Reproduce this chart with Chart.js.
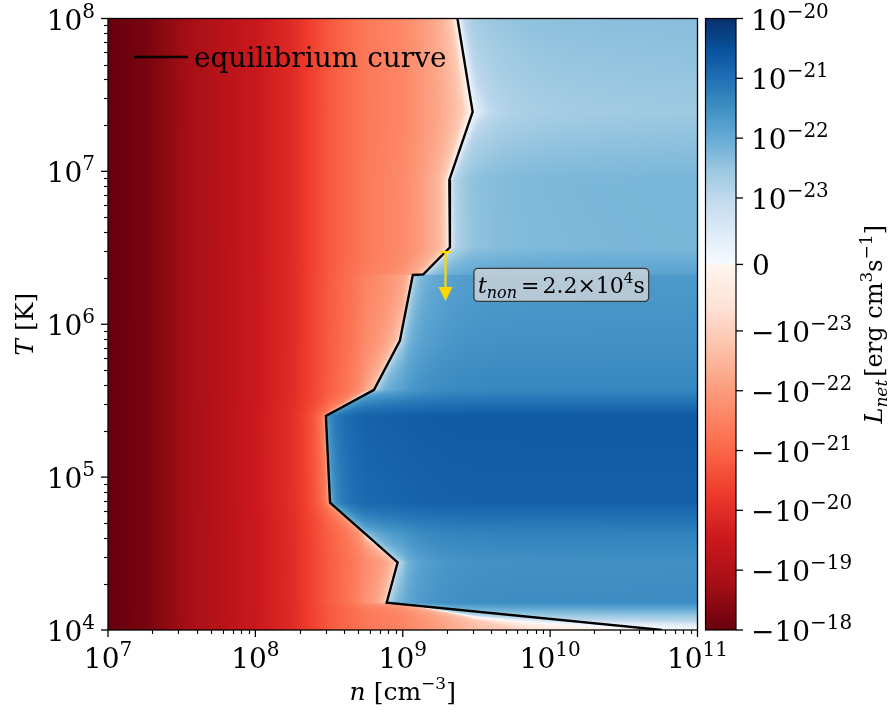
<!DOCTYPE html>
<html><head><meta charset="utf-8">
<script src="https://cdn.jsdelivr.net/npm/chart.js@4.4.1/dist/chart.umd.min.js"></script>
<style>
html,body{margin:0;padding:0;background:#ffffff;overflow:hidden}
#box{position:relative;width:890px;height:713px}
</style></head>
<body><div id="box"><canvas id="chart" width="890" height="713"></canvas></div>
<script>
// ---------------- data ----------------
const densityTickValues = [1e7, 1e8, 1e9, 1e10, 1e11];
const densityTickExponents = ['7', '8', '9', '10', '11'];
const temperatureTickValues = [1e4, 1e5, 1e6, 1e7, 1e8];
const temperatureTickExponents = ['4', '5', '6', '7', '8'];
const colorbarTickValues = [1e-20, 1e-21, 1e-22, 1e-23, 0, -1e-23, -1e-22, -1e-21, -1e-20, -1e-19, -1e-18];
const colorbarTickExponents = ['−20', '−21', '−22', '−23', '', '−23', '−22', '−21', '−20', '−19', '−18'];

const heatDensity = [1e7, 1.78e7, 3.16e7, 5.62e7, 1e8, 1.78e8, 3.16e8, 5.62e8, 1e9, 1.78e9, 3.16e9, 5.62e9, 1e10, 3.16e10, 1e11];
const heatRate = [-1e-18, -6.3e-19, -2.0e-19, -7.9e-20, -3.2e-20, -1.12e-20, -1.78e-21, -5.0e-22, -2.8e-22, -8.9e-23, -2.5e-23, -1.26e-23, -7.1e-24, -3.5e-24, -1.8e-24];

const coolTemperature = [1e4, 1.51e4, 2.77e4, 4.35e4, 6.81e4, 2.51e5, 3.72e5, 7.82e5, 2.10e6, 2.12e6, 3.19e6, 8.79e6, 2.45e7, 1e8];
const coolRate = [2.5e-24, 3.6e-22, 3.05e-22, 5.4e-22, 1.74e-21, 2.1e-21, 4.4e-22, 2.95e-22, 2.1e-22, 1.48e-22, 6.3e-23, 6.5e-23, 2.9e-23, 4.8e-23];

// equilibrium curve (L_net = 0)
const eqDensity = [2.35e9, 2.98e9, 2.07e9, 2.09e9, 1.38e9, 1.17e9, 9.57e8, 6.38e8, 3.01e8, 3.21e8, 9.23e8, 7.78e8, 5.73e10];
const eqTemperature = [1e8, 2.45e7, 8.79e6, 3.19e6, 2.12e6, 2.10e6, 7.82e5, 3.72e5, 2.51e5, 6.81e4, 2.77e4, 1.51e4, 1e4];

// non-equilibrium time annotation
const arrowDensity = 1.95e9;
const arrowTemperature = [2.97e6, 1.42e6];
const noteDensity = 3.04e9;
const noteTemperature = 1.81e6;

// colour norm limits (symmetric log, linear threshold 1e-23)
const normMin = -1e-18, normMax = 1e-20, normLinthresh = 1e-23;

// ---------------- helpers ----------------
const FONT = '"DejaVu Serif"';
const LINSCALE = 1 / (1 - 1 / 10);
function symlog(v) {
  const a = Math.abs(v);
  const u = a <= normLinthresh ? a / normLinthresh * LINSCALE : LINSCALE + Math.log10(a / normLinthresh);
  return v < 0 ? -u : u;
}
const U_MAX = symlog(normMax), U_MIN = symlog(normMin);
const BLUES = [[247,251,255],[222,235,247],[198,219,239],[158,202,225],[107,174,214],[66,146,198],[33,113,181],[8,81,156],[8,48,107]];
const REDS = [[255,245,240],[254,224,210],[252,187,161],[252,146,114],[251,106,74],[239,59,44],[203,24,29],[165,15,21],[103,0,13]];
function cmap(stops, t) {
  t = Math.max(0, Math.min(1, t));
  const f = t * (stops.length - 1);
  const i = Math.min(stops.length - 2, Math.floor(f));
  const r = f - i;
  const a = stops[i], b = stops[i + 1];
  return [a[0] + (b[0] - a[0]) * r, a[1] + (b[1] - a[1]) * r, a[2] + (b[2] - a[2]) * r];
}
function colorForU(u) {
  return u >= 0 ? cmap(BLUES, u / U_MAX) : cmap(REDS, u / U_MIN);
}
function logInterp(xs, ys, x) {
  const lx = Math.log10(x);
  const L = xs.map(Math.log10);
  const sign = ys[0] < 0 ? -1 : 1;
  const Y = ys.map(v => Math.log10(Math.abs(v)));
  if (lx <= L[0]) return sign * Math.pow(10, Y[0]);
  if (lx >= L[L.length - 1]) return sign * Math.pow(10, Y[Y.length - 1]);
  let k = 0;
  while (k < L.length - 2 && lx > L[k + 1]) k++;
  const r = (lx - L[k]) / (L[k + 1] - L[k]);
  return sign * Math.pow(10, Y[k] + (Y[k + 1] - Y[k]) * r);
}
function measureRuns(ctx, runs) {
  let total = 0;
  for (const r of runs) {
    ctx.font = (r.it ? 'italic ' : '') + r.s + 'px ' + FONT;
    r.w = ctx.measureText(r.t).width;
    total += r.w + (r.gap || 0);
  }
  return total;
}
function drawRuns(ctx, runs, x, y, align) {
  const total = measureRuns(ctx, runs);
  let cx = align === 'center' ? x - total / 2 : align === 'right' ? x - total : x;
  const start = cx;
  for (const r of runs) {
    ctx.font = (r.it ? 'italic ' : '') + r.s + 'px ' + FONT;
    ctx.fillText(r.t, cx, y + (r.dy || 0));
    cx += r.w + (r.gap || 0);
  }
  return {left: start, right: start + total, width: total};
}
function powRuns(prefix, exp, S) {
  const runs = [];
  if (prefix) runs.push({t: prefix, s: S});
  runs.push({t: '10', s: S});
  runs.push({t: exp, s: Math.round(S * 0.7), dy: -Math.round(S * 0.42)});
  return runs;
}

// ---------------- plugins ----------------
const heatmapPlugin = {
  id: 'heatmap',
  beforeDatasetsDraw(chart) {
    const {ctx, chartArea: a} = chart;
    const xs = chart.scales.x, ys = chart.scales.y;
    const L = Math.floor(a.left), T = Math.floor(a.top);
    const w = Math.ceil(a.right) - L, h = Math.ceil(a.bottom) - T;
    const off = document.createElement('canvas');
    off.width = w; off.height = h;
    const octx = off.getContext('2d');
    const img = octx.createImageData(w, h);
    const col = new Float64Array(w), row = new Float64Array(h);
    for (let i = 0; i < w; i++) col[i] = logInterp(heatDensity, heatRate, xs.getValueForPixel(L + i + 0.5));
    for (let j = 0; j < h; j++) row[j] = logInterp(coolTemperature, coolRate, ys.getValueForPixel(T + j + 0.5));
    for (let j = 0; j < h; j++) {
      for (let i = 0; i < w; i++) {
        const c = colorForU(symlog(row[j] + col[i]));
        const p = (j * w + i) * 4;
        img.data[p] = c[0]; img.data[p + 1] = c[1]; img.data[p + 2] = c[2]; img.data[p + 3] = 255;
      }
    }
    octx.putImageData(img, 0, 0);
    ctx.save();
    ctx.beginPath();
    ctx.rect(a.left, a.top, a.right - a.left, a.bottom - a.top);
    ctx.clip();
    ctx.drawImage(off, L, T);
    ctx.restore();
  }
};

const decorPlugin = {
  id: 'decor',
  afterDatasetsDraw(chart) {
    const {ctx, chartArea: a} = chart;
    const xs = chart.scales.x, ys = chart.scales.y, cb = chart.scales.cb;
    ctx.save();
    ctx.fillStyle = '#000';
    ctx.strokeStyle = '#000';
    ctx.textBaseline = 'alphabetic';

    // frame
    ctx.lineWidth = 1.3;
    ctx.strokeRect(a.left, a.top, a.right - a.left, a.bottom - a.top);

    // minor ticks
    ctx.lineWidth = 1.1;
    for (let e = 7; e < 11; e++) {
      for (let m = 2; m <= 9; m++) {
        const px = Math.round(xs.getPixelForValue(m * Math.pow(10, e))) + 0.5;
        ctx.beginPath(); ctx.moveTo(px, a.bottom); ctx.lineTo(px, a.bottom + 4); ctx.stroke();
      }
    }
    for (let e = 4; e < 8; e++) {
      for (let m = 2; m <= 9; m++) {
        const py = Math.round(ys.getPixelForValue(m * Math.pow(10, e))) + 0.5;
        ctx.beginPath(); ctx.moveTo(a.left, py); ctx.lineTo(a.left - 4, py); ctx.stroke();
      }
    }
    // major ticks + labels
    ctx.lineWidth = 1.3;
    densityTickValues.forEach((v, i) => {
      const px = xs.getPixelForValue(v);
      ctx.beginPath(); ctx.moveTo(px, a.bottom); ctx.lineTo(px, a.bottom + 7); ctx.stroke();
      drawRuns(ctx, powRuns('', densityTickExponents[i], 28), px, a.bottom + 38, 'center');
    });
    temperatureTickValues.forEach((v, i) => {
      const py = ys.getPixelForValue(v);
      ctx.beginPath(); ctx.moveTo(a.left, py); ctx.lineTo(a.left - 7, py); ctx.stroke();
      drawRuns(ctx, powRuns('', temperatureTickExponents[i], 28), a.left - 13, py + 11, 'right');
    });

    // axis titles
    drawRuns(ctx, [{t: 'n', s: 25, it: true}, {t: ' [cm', s: 25}, {t: '−3', s: 17, dy: -11}, {t: ']', s: 25}], (a.left + a.right) / 2, 700, 'center');
    ctx.save();
    ctx.translate(33, (a.top + a.bottom) / 2);
    ctx.rotate(-Math.PI / 2);
    drawRuns(ctx, [{t: 'T', s: 25, it: true}, {t: ' [K]', s: 25}], 0, 0, 'center');
    ctx.restore();

    // legend
    ctx.lineWidth = 2.4;
    ctx.beginPath(); ctx.moveTo(134, 57); ctx.lineTo(188, 57); ctx.stroke();
    drawRuns(ctx, [{t: 'equilibrium curve', s: 28}], 194, 67, 'left');

    // arrow
    const ax = xs.getPixelForValue(arrowDensity);
    const ay0 = ys.getPixelForValue(arrowTemperature[0]);
    const ay1 = ys.getPixelForValue(arrowTemperature[1]);
    ctx.strokeStyle = '#ffd700'; ctx.fillStyle = '#ffd700';
    ctx.lineWidth = 2.2;
    ctx.beginPath(); ctx.moveTo(ax - 6, ay0); ctx.lineTo(ax + 6, ay0); ctx.stroke();
    ctx.beginPath(); ctx.moveTo(ax, ay0); ctx.lineTo(ax, ay1 - 12); ctx.stroke();
    ctx.beginPath(); ctx.moveTo(ax - 7, ay1 - 14); ctx.lineTo(ax + 7, ay1 - 14); ctx.lineTo(ax, ay1); ctx.closePath(); ctx.fill();

    // annotation text box
    const nx = xs.getPixelForValue(noteDensity);
    const ny = ys.getPixelForValue(noteTemperature);
    const noteRuns = [{t: 't', s: 22, it: true}, {t: 'non', s: 16, it: true, dy: 5, gap: 4}, {t: '=', s: 22, gap: 3}, {t: '2.2', s: 22}, {t: '×', s: 22}, {t: '10', s: 22}, {t: '4', s: 15, dy: -10}, {t: 's', s: 22}];
    const tw = measureRuns(ctx, noteRuns);
    const bx0 = nx, bx1 = nx + tw + 8, by0 = ny - 16.5, by1 = ny + 16.5;
    ctx.beginPath();
    if (ctx.roundRect) ctx.roundRect(bx0, by0, bx1 - bx0, by1 - by0, 4); else ctx.rect(bx0, by0, bx1 - bx0, by1 - by0);
    ctx.fillStyle = 'rgba(208,212,216,0.8)';
    ctx.fill();
    ctx.strokeStyle = '#3a3a3a'; ctx.lineWidth = 1.3; ctx.stroke();
    ctx.fillStyle = '#000';
    drawRuns(ctx, noteRuns, bx0 + 4, ny + 8.5, 'left');

    // colorbar
    const cx0 = 705.5, cx1 = 736;
    const top = Math.floor(cb.top), bot = Math.ceil(cb.bottom);
    for (let py = top; py < bot; py++) {
      const u = cb.getValueForPixel(py + 0.5);
      const c = colorForU(u);
      ctx.fillStyle = 'rgb(' + Math.round(c[0]) + ',' + Math.round(c[1]) + ',' + Math.round(c[2]) + ')';
      ctx.fillRect(cx0, py, cx1 - cx0, 1);
    }
    ctx.strokeStyle = '#000'; ctx.lineWidth = 1.2;
    ctx.strokeRect(cx0, cb.top, cx1 - cx0, cb.bottom - cb.top);
    ctx.fillStyle = '#000';
    ctx.lineWidth = 1.3;
    colorbarTickValues.forEach((v, i) => {
      const py = cb.getPixelForValue(symlog(v));
      ctx.beginPath(); ctx.moveTo(cx1, py); ctx.lineTo(cx1 + 7, py); ctx.stroke();
      if (v === 0) drawRuns(ctx, [{t: '0', s: 28}], 752, py + 11, 'left');
      else drawRuns(ctx, powRuns(v < 0 ? '−' : '', colorbarTickExponents[i], 28), 751, py + 11, 'left');
    });
    ctx.save();
    ctx.translate(882, (cb.top + cb.bottom) / 2);
    ctx.rotate(-Math.PI / 2);
    drawRuns(ctx, [{t: 'L', s: 24, it: true}, {t: 'net', s: 17, it: true, dy: 5, gap: 3}, {t: '[erg cm', s: 24}, {t: '3', s: 17, dy: -10}, {t: 's', s: 24}, {t: '−1', s: 17, dy: -10}, {t: ']', s: 24}], 0, 0, 'center');
    ctx.restore();
    ctx.restore();
  }
};

// ---------------- chart ----------------
const eqPoints = eqDensity.map((n, i) => ({x: n, y: eqTemperature[i]}));
new Chart(document.getElementById('chart'), {
  type: 'scatter',
  data: {
    datasets: [{
      label: 'equilibrium curve',
      data: eqPoints,
      showLine: true,
      borderColor: '#000000',
      borderWidth: 2.4,
      pointRadius: 0,
      fill: false,
      tension: 0
    }]
  },
  options: {
    responsive: false,
    animation: false,
    devicePixelRatio: 1,
    layout: {padding: {left: 108, right: 192.5, top: 18.5, bottom: 83}},
    plugins: {legend: {display: false}, tooltip: {enabled: false}},
    scales: {
      x: {type: 'logarithmic', min: 1e7, max: 1e11, display: false},
      y: {type: 'logarithmic', min: 1e4, max: 1e8, display: false},
      cb: {type: 'linear', position: 'right', min: U_MIN, max: U_MAX, display: false}
    }
  },
  plugins: [heatmapPlugin, decorPlugin]
});
</script>
</body></html>
